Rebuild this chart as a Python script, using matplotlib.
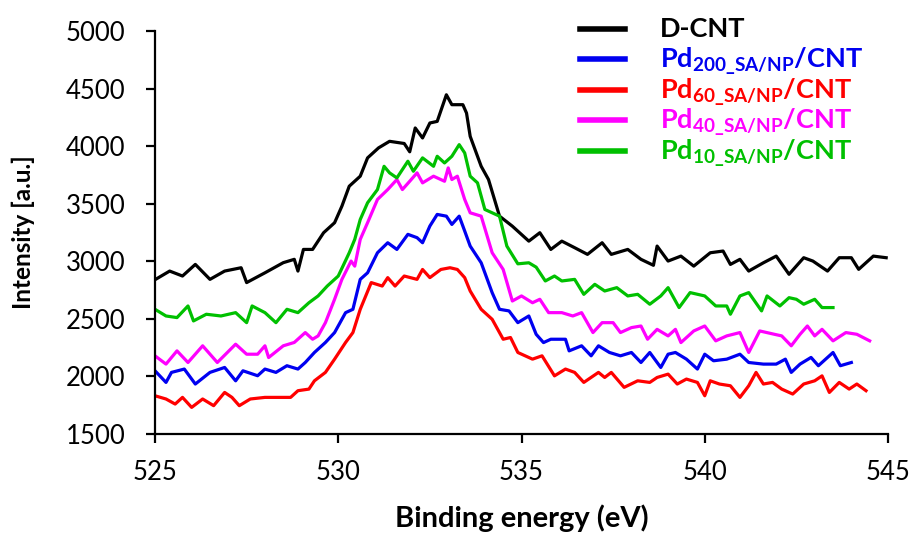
import matplotlib
matplotlib.use('Agg')
import matplotlib.pyplot as plt
from matplotlib.lines import Line2D

plt.rcParams['font.family'] = ['Lato', 'DejaVu Sans']
plt.rcParams['mathtext.fontset'] = 'custom'
plt.rcParams['mathtext.rm'] = 'Lato:bold'
plt.rcParams['mathtext.bf'] = 'Lato:bold'
plt.rcParams['mathtext.it'] = 'Lato:bold'

# O 1s spectra (binding energy in eV, intensity in a.u.)
e_dcnt = [525.0, 525.4, 525.75, 526.1, 526.5, 526.9, 527.35, 527.5, 528.0, 528.5,
          528.8, 528.9, 529.05, 529.3, 529.6, 529.9, 530.1, 530.3, 530.6, 530.8,
          531.1, 531.4, 531.8, 531.95, 532.1, 532.3, 532.5, 532.7, 532.95, 533.1,
          533.4, 533.5, 533.6, 533.9, 534.1, 534.4, 534.75, 535.2, 535.5, 535.8,
          536.1, 536.45, 536.8, 537.2, 537.45, 537.9, 538.26, 538.6, 538.7, 539.0,
          539.35, 539.7, 540.15, 540.5, 540.7, 540.96, 541.2, 541.6, 541.95, 542.3,
          542.7, 542.95, 543.35, 543.67, 544.0, 544.2, 544.6, 544.95]
i_dcnt = [2840, 2915, 2872, 2973, 2843, 2915, 2944, 2815, 2900, 2988,
          3017, 2915, 3103, 3103, 3248, 3335, 3479, 3652, 3739, 3898,
          3985, 4042, 4023, 3951, 4158, 4071, 4201, 4215, 4446, 4360,
          4360, 4287, 4085, 3825, 3710, 3392, 3305, 3175, 3248, 3103,
          3175, 3118, 3060, 3161, 3060, 3103, 3017, 2965, 3132, 3002,
          3045, 2958, 3074, 3089, 2973, 3017, 2915, 2987, 3045, 2887,
          3031, 3002, 2915, 3031, 3031, 2930, 3045, 3031]

e_pd200 = [525.0, 525.3, 525.45, 525.8, 526.1, 526.5, 526.9, 527.2, 527.4, 527.8,
           528.0, 528.3, 528.6, 528.9, 529.1, 529.35, 529.65, 529.9, 530.2, 530.4,
           530.6, 530.8, 531.07, 531.35, 531.6, 531.9, 532.15, 532.3, 532.5, 532.7,
           532.95, 533.1, 533.3, 533.45, 533.6, 533.9, 534.2, 534.4, 534.66, 534.9,
           535.2, 535.4, 535.6, 535.8, 536.2, 536.3, 536.64, 536.9, 537.1, 537.4,
           537.7, 538.0, 538.26, 538.5, 538.8, 539.0, 539.2, 539.5, 539.8, 540.0,
           540.24, 540.6, 540.96, 541.2, 541.6, 541.95, 542.2, 542.36, 542.6, 542.9,
           543.1, 543.5, 543.7, 544.0]
i_pd200 = [2049, 1948, 2035, 2064, 1934, 2035, 2078, 1962, 2049, 2006,
           2064, 2035, 2093, 2064, 2121, 2208, 2295, 2381, 2554, 2583,
           2843, 2900, 3074, 3161, 3103, 3234, 3205, 3161, 3306, 3407,
           3392, 3320, 3392, 3263, 3132, 2987, 2727, 2583, 2569, 2467,
           2525, 2366, 2294, 2323, 2323, 2222, 2266, 2179, 2266, 2208,
           2179, 2208, 2121, 2208, 2078, 2193, 2208, 2150, 2064, 2193,
           2136, 2150, 2193, 2121, 2107, 2107, 2150, 2035, 2107, 2165,
           2093, 2208, 2093, 2121]

e_pd60 = [525.0, 525.3, 525.55, 525.75, 526.0, 526.3, 526.6, 526.9, 527.1, 527.3,
          527.6, 528.0, 528.3, 528.7, 528.9, 529.2, 529.35, 529.65, 529.9, 530.2,
          530.4, 530.6, 530.9, 531.2, 531.35, 531.55, 531.8, 532.15, 532.3, 532.5,
          532.8, 533.05, 533.25, 533.45, 533.6, 533.9, 534.2, 534.5, 534.7, 534.9,
          535.3, 535.56, 535.9, 536.2, 536.45, 536.7, 537.1, 537.27, 537.45, 537.8,
          538.17, 538.5, 538.7, 539.0, 539.25, 539.5, 539.8, 540.0, 540.15, 540.4,
          540.7, 540.96, 541.2, 541.4, 541.6, 541.85, 542.1, 542.4, 542.7, 543.0,
          543.2, 543.4, 543.67, 543.94, 544.15, 544.4]
i_pd60 = [1832, 1804, 1760, 1818, 1731, 1804, 1746, 1861, 1818, 1746,
          1804, 1818, 1818, 1818, 1876, 1890, 1962, 2035, 2150, 2295,
          2381, 2583, 2815, 2785, 2858, 2785, 2872, 2843, 2929, 2858,
          2929, 2944, 2929, 2858, 2742, 2583, 2496, 2323, 2338, 2208,
          2150, 2179, 2005, 2064, 2035, 1948, 2035, 1991, 2035, 1905,
          1962, 1948, 1991, 2020, 1934, 1977, 1948, 1832, 1962, 1934,
          1919, 1818, 1919, 2035, 1934, 1948, 1890, 1847, 1934, 1962,
          2005, 1861, 1948, 1890, 1934, 1876]

e_pd40 = [525.0, 525.3, 525.6, 525.9, 526.3, 526.7, 527.2, 527.5, 527.8, 528.0,
          528.1, 528.5, 528.8, 529.1, 529.3, 529.45, 529.65, 529.9, 530.1, 530.35,
          530.45, 530.6, 530.8, 531.07, 531.35, 531.6, 531.75, 531.95, 532.15, 532.3,
          532.6, 532.9, 533.0, 533.1, 533.25, 533.45, 533.6, 533.9, 534.2, 534.5,
          534.75, 535.0, 535.3, 535.5, 535.74, 536.1, 536.4, 536.64, 536.95, 537.2,
          537.5, 537.7, 538.0, 538.26, 538.44, 538.7, 539.0, 539.2, 539.35, 539.7,
          540.0, 540.3, 540.6, 540.96, 541.2, 541.5, 541.9, 542.1, 542.36, 542.6,
          542.8, 543.0, 543.2, 543.5, 543.85, 544.15, 544.5]
i_pd40 = [2179, 2107, 2222, 2121, 2266, 2121, 2280, 2193, 2193, 2266,
          2164, 2266, 2295, 2381, 2323, 2352, 2467, 2670, 2843, 3002,
          2958, 3190, 3335, 3537, 3623, 3710, 3623, 3695, 3768, 3681,
          3739, 3695, 3811, 3710, 3739, 3537, 3421, 3392, 3074, 2929,
          2655, 2699, 2640, 2670, 2554, 2554, 2525, 2554, 2381, 2467,
          2467, 2381, 2424, 2438, 2323, 2409, 2352, 2409, 2294, 2395,
          2438, 2309, 2352, 2381, 2208, 2395, 2366, 2352, 2266, 2366,
          2438, 2352, 2409, 2309, 2381, 2366, 2309]

e_pd10 = [525.0, 525.3, 525.6, 525.9, 526.05, 526.4, 526.8, 527.2, 527.5, 527.65,
          528.0, 528.3, 528.6, 528.9, 529.2, 529.45, 529.7, 530.0, 530.3, 530.45,
          530.6, 530.8, 531.07, 531.25, 531.4, 531.6, 531.9, 532.05, 532.3, 532.6,
          532.7, 532.9, 533.1, 533.3, 533.45, 533.6, 533.8, 534.0, 534.4, 534.6,
          534.9, 535.2, 535.4, 535.65, 535.9, 536.1, 536.45, 536.7, 537.0, 537.27,
          537.6, 537.9, 538.17, 538.5, 538.8, 539.0, 539.3, 539.6, 540.0, 540.3,
          540.6, 540.7, 540.96, 541.2, 541.55, 541.7, 542.05, 542.3, 542.5, 542.7,
          543.0, 543.2, 543.5]
i_pd10 = [2583, 2525, 2511, 2612, 2482, 2540, 2525, 2554, 2467, 2612,
          2554, 2467, 2583, 2554, 2640, 2699, 2785, 2872, 3074, 3190,
          3363, 3508, 3623, 3825, 3768, 3724, 3869, 3782, 3898, 3825,
          3912, 3854, 3912, 4013, 3941, 3739, 3681, 3450, 3392, 3132,
          2978, 2987, 2949, 2829, 2872, 2829, 2843, 2713, 2800, 2742,
          2771, 2699, 2713, 2627, 2699, 2771, 2598, 2728, 2699, 2612,
          2612, 2540, 2699, 2728, 2569, 2699, 2612, 2684, 2670, 2627,
          2670, 2598, 2598]

labels = ['D-CNT',
          r'Pd$_{\mathbf{200\_SA/NP}}$/CNT',
          r'Pd$_{\mathbf{60\_SA/NP}}$/CNT',
          r'Pd$_{\mathbf{40\_SA/NP}}$/CNT',
          r'Pd$_{\mathbf{10\_SA/NP}}$/CNT']
colors = ['#000000', '#0000F0', '#FF0000', '#FF00FF', '#00C000']
x_ticks = [525, 530, 535, 540, 545]
y_ticks = [1500, 2000, 2500, 3000, 3500, 4000, 4500, 5000]

series = [(e_dcnt, i_dcnt), (e_pd200, i_pd200), (e_pd60, i_pd60),
          (e_pd40, i_pd40), (e_pd10, i_pd10)]

W, H = 914, 542
fig = plt.figure(figsize=(W / 100, H / 100), dpi=100)
ax = fig.add_axes([155 / W, 1 - 434 / H, 733 / W, 403 / H])

for (e, inten), col in zip(series, colors):
    ax.plot(e, inten, color=col, linewidth=2.3)

ax.set_xlim(525, 545)
ax.set_ylim(1500, 5000)
ax.set_xticks(x_ticks)
ax.set_yticks(y_ticks)
for side in ['top', 'right']:
    ax.spines[side].set_visible(False)
for side in ['left', 'bottom']:
    ax.spines[side].set_linewidth(1.6)
ax.tick_params(axis='both', direction='out', length=6.5, width=1.6, labelsize=18.5)
ax.tick_params(axis='y', pad=15)
ax.tick_params(axis='x', pad=12)

ax.set_xlabel('Binding energy (eV)', fontsize=21, fontweight='bold', labelpad=14)
ax.set_ylabel('Intensity [a.u.]', fontsize=17.5, fontweight='bold', labelpad=22)

# legend drawn by hand, text in the series colour
for k, (lab, col) in enumerate(zip(labels, colors)):
    y_line = 1 - (29 + 30.4 * k) / H
    y_text = 1 - (37 + 30.7 * k) / H
    fig.add_artist(Line2D([580 / W, 625 / W], [y_line, y_line], color=col,
                          linewidth=4, transform=fig.transFigure))
    fig.text(660 / W, y_text, lab, color=col, fontsize=19.5, fontweight='bold',
             va='baseline', ha='left')

fig.savefig('out.png', dpi=100)
